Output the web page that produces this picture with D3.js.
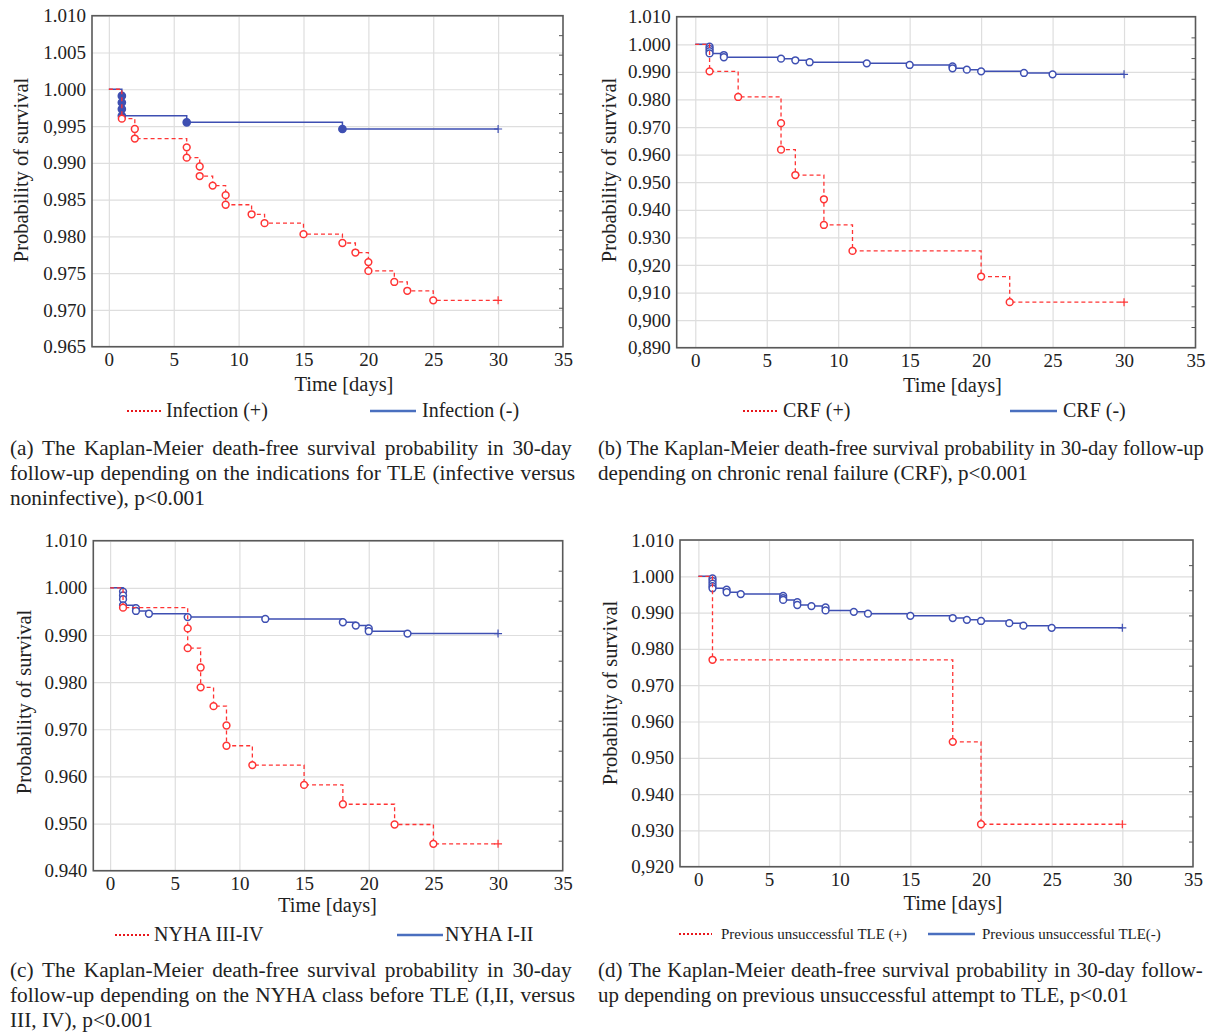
<!DOCTYPE html>
<html><head><meta charset="utf-8">
<script src="https://cdn.jsdelivr.net/npm/d3@7"></script>
<style>body{margin:0;background:#fff}svg{display:block}</style>
</head><body><svg id="chart" width="1215" height="1032"></svg>
<script>
// ---------- shared axis data ----------
const followUpEnd = 30;
const xDomain = [-1.3, 35];
const xTicks = [0, 5, 10, 15, 20, 25, 30, 35];
const xGridTicks = [0, 5, 10, 15, 20, 25, 30];

// ---------- panel (a) Infection ----------
const aYTicks = [1.010, 1.005, 1.000, 0.995, 0.990, 0.985, 0.980, 0.975, 0.970, 0.965];
const aYLabels = ["1.010", "1.005", "1.000", "0,995", "0.990", "0.985", "0.980", "0.975", "0.970", "0.965"];
const aPosTimes = [1, 2, 2, 6, 6, 7, 7, 8, 9, 9, 11, 12, 15, 18, 19, 20, 20, 22, 23, 25];
const aPosSurv = [0.9960, 0.9946, 0.9933, 0.9921, 0.9907, 0.9895, 0.9882, 0.9869, 0.9856, 0.9843, 0.9830, 0.9818, 0.9803, 0.9791, 0.9778, 0.9765, 0.9753, 0.9738, 0.9726, 0.9713];
const aNegTimes = [1, 1, 1, 1, 6, 18];
const aNegSurv = [0.9991, 0.9982, 0.9973, 0.9964, 0.9955, 0.9946];
const aLegend = ["Infection (+)", "Infection (-)"];
const aCaption = ["(a)  The Kaplan-Meier death-free survival probability in 30-day",
                  "follow-up depending on the indications for TLE (infective versus",
                  "noninfective), p<0.001"];

// ---------- panel (b) CRF ----------
const bYTicks = [1.010, 1.000, 0.990, 0.980, 0.970, 0.960, 0.950, 0.940, 0.930, 0.920, 0.910, 0.900, 0.890];
const bYLabels = ["1.010", "1.000", "0.990", "0.980", "0.970", "0.960", "0.950", "0.940", "0.930", "0,920", "0,910", "0,900", "0,890"];
const bPosTimes = [1, 3, 6, 6, 7, 9, 9, 11, 20, 22];
const bPosSurv = [0.9902, 0.9809, 0.9714, 0.9618, 0.9526, 0.9438, 0.9345, 0.9251, 0.9158, 0.9065];
const bNegTimes = [1, 1, 1, 1, 2, 2, 6, 7, 8, 12, 15, 18, 18, 19, 20, 23, 25];
const bNegSurv = [0.9991, 0.9983, 0.9975, 0.9967, 0.9961, 0.9953, 0.9948, 0.9942, 0.9935, 0.9931, 0.9925, 0.9920, 0.9913, 0.9908, 0.9902, 0.9896, 0.9891];
const bLegend = ["CRF (+)", "CRF (-)"];
const bCaption = ["(b)  The Kaplan-Meier death-free survival probability in 30-day follow-up",
                  "depending on chronic renal failure (CRF), p<0.001"];

// ---------- panel (c) NYHA ----------
const cYTicks = [1.010, 1.000, 0.990, 0.980, 0.970, 0.960, 0.950, 0.940];
const cYLabels = ["1.010", "1.000", "0.990", "0.980", "0.970", "0.960", "0.950", "0.940"];
const cPosTimes = [1, 6, 6, 7, 7, 8, 9, 9, 11, 15, 18, 22, 25];
const cPosSurv = [0.9958, 0.9914, 0.9872, 0.9831, 0.9789, 0.9749, 0.9708, 0.9665, 0.9624, 0.9582, 0.9541, 0.9498, 0.9457];
const cNegTimes = [1, 1, 1, 1, 2, 2, 3, 6, 12, 18, 19, 20, 20, 23];
const cNegSurv = [0.9992, 0.9984, 0.9976, 0.9963, 0.9957, 0.9951, 0.9945, 0.9938, 0.9934, 0.9927, 0.9920, 0.9914, 0.9908, 0.9903];
const cLegend = ["NYHA III-IV", "NYHA I-II"];
const cCaption = ["(c)  The Kaplan-Meier death-free survival probability in 30-day",
                  "follow-up depending on the NYHA class before TLE (I,II, versus",
                  "III, IV), p<0.001"];

// ---------- panel (d) previous unsuccessful TLE ----------
const dYTicks = [1.010, 1.000, 0.990, 0.980, 0.970, 0.960, 0.950, 0.940, 0.930, 0.920];
const dYLabels = ["1.010", "1.000", "0.990", "0.980", "0.970", "0.960", "0.950", "0.940", "0.930", "0,920"];
const dPosTimes = [1, 18, 20];
const dPosSurv = [0.9770, 0.9544, 0.9317];
const dNegTimes = [1, 1, 1, 1, 1, 2, 2, 3, 6, 6, 6, 7, 7, 8, 9, 9, 11, 12, 15, 18, 19, 20, 22, 23, 25];
const dNegSurv = [0.9994, 0.9987, 0.9980, 0.9973, 0.9967, 0.9963, 0.9956, 0.9951, 0.9946, 0.9940, 0.9935, 0.9929, 0.9921, 0.9918, 0.9914, 0.9906, 0.9902, 0.9897, 0.9891, 0.9885, 0.9880, 0.9877, 0.9871, 0.9864, 0.9858];
const dLegend = ["Previous unsuccessful TLE (+)", "Previous unsuccessful TLE(-)"];
const dCaption = ["(d)  The Kaplan-Meier death-free survival probability in 30-day follow-",
                  "up depending on previous unsuccessful attempt to TLE, p<0.01"];

// ---------- layout ----------
const FONT = "'Liberation Serif','Times New Roman',serif";
const RED = "#ff3434", BLUE = "#3e4fb2";
const LEG_RED = "#e8161b", LEG_BLUE = "#4a6fbf";

const panels = [
  {ticks: aYTicks, labels: aYLabels, pos: [aPosTimes, aPosSurv], neg: [aNegTimes, aNegSurv], legend: aLegend, caption: aCaption,
   box: {l: 92, t: 15.7, r: 563, b: 346.7}, rightTicks: 16, filledNeg: true,
   yTitle: [21, 170], xTitle: [344, 391],
   leg: {y: 411, fs: 20, r1: 127, r2: 161, t1: 166, b1: 370, b2: 416, t2: 422},
   cap: {x: 10, y0: 455, w: [565, 565, 195], justify: [true, true, false]}},
  {ticks: bYTicks, labels: bYLabels, pos: [bPosTimes, bPosSurv], neg: [bNegTimes, bNegSurv], legend: bLegend, caption: bCaption,
   box: {l: 676.7, t: 16.7, r: 1195.5, b: 347.7}, rightTicks: 15, filledNeg: false,
   yTitle: [609, 170], xTitle: [952.5, 392],
   leg: {y: 411, fs: 20, r1: 743, r2: 777, t1: 783, b1: 1010, b2: 1057, t2: 1063},
   cap: {x: 598, y0: 455, w: [606, 430], justify: [true, false]}},
  {ticks: cYTicks, labels: cYLabels, pos: [cPosTimes, cPosSurv], neg: [cNegTimes, cNegSurv], legend: cLegend, caption: cCaption,
   box: {l: 93.3, t: 540.7, r: 562.7, b: 870.7}, rightTicks: 10, filledNeg: false,
   yTitle: [24, 702], xTitle: [327.5, 912],
   leg: {y: 935, fs: 20, r1: 115, r2: 150, t1: 154, b1: 397, b2: 443, t2: 445},
   cap: {x: 10, y0: 977, w: [565, 565, 143], justify: [true, true, false]}},
  {ticks: dYTicks, labels: dYLabels, pos: [dPosTimes, dPosSurv], neg: [dNegTimes, dNegSurv], legend: dLegend, caption: dCaption,
   box: {l: 680, t: 540, r: 1193, b: 866.7}, rightTicks: 12, filledNeg: false,
   yTitle: [609.5, 693], xTitle: [953, 910],
   leg: {y: 934, fs: 15, r1: 679, r2: 712, t1: 721, b1: 928, b2: 975, t2: 982},
   cap: {x: 598, y0: 977, w: [606, 531], justify: [true, false]}}
];

const svg = d3.select("#chart");

function drawPanel(p) {
  const B = p.box;
  const x = d3.scaleLinear().domain(xDomain).range([B.l, B.r]);
  const y = d3.scaleLinear().domain([d3.min(p.ticks), d3.max(p.ticks)]).range([B.b, B.t]);
  const g = svg.append("g");

  // grid
  g.append("g").attr("transform", `translate(0,${B.t})`)
    .call(d3.axisBottom(x).tickValues(xGridTicks).tickSize(B.b - B.t).tickFormat(""))
    .call(s => s.select(".domain").remove())
    .call(s => s.selectAll("line").attr("stroke", "#dedede").attr("stroke-width", 1.2));
  g.append("g").attr("transform", `translate(${B.l},0)`)
    .call(d3.axisRight(y).tickValues(p.ticks).tickSize(B.r - B.l).tickFormat(""))
    .call(s => s.select(".domain").remove())
    .call(s => s.selectAll("line").attr("stroke", "#dedede").attr("stroke-width", 1.2));

  // right-side inward ticks
  const yr = d3.scalePoint().domain(d3.range(p.rightTicks)).range([B.t, B.b]).padding(1);
  g.append("g").attr("transform", `translate(${B.r},0)`)
    .call(d3.axisLeft(yr).tickSize(4).tickFormat(""))
    .call(s => s.select(".domain").remove())
    .call(s => s.selectAll("line").attr("stroke", "#555").attr("stroke-width", 1));

  // axes labels
  g.append("g").attr("transform", `translate(${B.l},0)`)
    .call(d3.axisLeft(y).tickValues(p.ticks).tickSize(0).tickPadding(6).tickFormat((d, i) => p.labels[i]))
    .call(s => s.select(".domain").remove())
    .call(s => s.selectAll("text").attr("font-family", FONT).attr("font-size", 19).attr("fill", "#222"));
  g.append("g").attr("transform", `translate(0,${B.b})`)
    .call(d3.axisBottom(x).tickValues(xTicks).tickSize(0).tickPadding(6).tickFormat(d3.format("d")))
    .call(s => s.select(".domain").remove())
    .call(s => s.selectAll("text").attr("font-family", FONT).attr("font-size", 19).attr("fill", "#222"));

  // frame
  g.append("rect").attr("x", B.l).attr("y", B.t).attr("width", B.r - B.l).attr("height", B.b - B.t)
    .attr("fill", "none").attr("stroke", "#595959").attr("stroke-width", 1.6);

  // KM curves
  const line = d3.line().x(d => x(d[0])).y(d => y(d[1])).curve(d3.curveStepAfter);
  function series(data, color, dash, filled) {
    const [times, surv] = data;
    const pts = [[0, 1]].concat(times.map((t, i) => [t, surv[i]]));
    pts.push([followUpEnd, surv[surv.length - 1]]);
    g.append("path").attr("d", line(pts)).attr("fill", "none").attr("stroke", color)
      .attr("stroke-width", dash ? 1.3 : 1.5).attr("stroke-dasharray", dash ? "4,3" : null);
    g.append("g").selectAll("circle").data(times.map((t, i) => [t, surv[i]])).join("circle")
      .attr("cx", d => x(d[0])).attr("cy", d => y(d[1])).attr("r", filled ? 3.6 : 3.4)
      .attr("fill", filled ? color : "#fff").attr("stroke", color).attr("stroke-width", 1.5);
    const end = pts[pts.length - 1];
    const cx = x(end[0]), cy = y(end[1]);
    g.append("path").attr("d", `M${cx - 4},${cy}H${cx + 4}M${cx},${cy - 4}V${cy + 4}`)
      .attr("stroke", color).attr("stroke-width", 1.2);
  }
  series(p.neg, BLUE, false, p.filledNeg);
  series(p.pos, RED, true, false);

  // titles
  g.append("text").attr("transform", `translate(${p.yTitle[0]},${p.yTitle[1]}) rotate(-90)`)
    .attr("text-anchor", "middle").attr("dy", "0.35em").attr("font-family", FONT).attr("font-size", 20.5)
    .attr("fill", "#222").text("Probability of survival");
  g.append("text").attr("x", p.xTitle[0]).attr("y", p.xTitle[1]).attr("text-anchor", "middle")
    .attr("font-family", FONT).attr("font-size", 20.5).attr("fill", "#222").text("Time [days]");

  // legend
  const L = p.leg;
  g.append("line").attr("x1", L.r1).attr("x2", L.r2).attr("y1", L.y).attr("y2", L.y)
    .attr("stroke", LEG_RED).attr("stroke-width", 2).attr("stroke-dasharray", "2,2");
  g.append("line").attr("x1", L.b1).attr("x2", L.b2).attr("y1", L.y).attr("y2", L.y)
    .attr("stroke", LEG_BLUE).attr("stroke-width", 2.5);
  [[L.t1, p.legend[0]], [L.t2, p.legend[1]]].forEach(([tx, label]) => {
    g.append("text").attr("x", tx).attr("y", L.y).attr("dy", "0.32em").attr("font-family", FONT)
      .attr("font-size", L.fs).attr("fill", "#222").text(label);
  });

  // caption: size from the unjustified last line, then justify others via word-spacing
  const last = p.caption.length - 1;
  const probe = g.append("text").attr("font-family", FONT).attr("font-size", 20).text(p.caption[last]);
  const natural = probe.node().getComputedTextLength();
  probe.remove();
  const fs = Math.min(21.5, 20 * p.cap.w[last] / natural);
  p.caption.forEach((line, i) => {
    const t = g.append("text").attr("x", p.cap.x).attr("y", p.cap.y0 + i * 25).attr("font-family", FONT)
      .attr("font-size", fs).attr("fill", "#222").text(line);
    if (p.cap.justify[i]) {
      let nat = t.node().getComputedTextLength();
      if (nat > p.cap.w[i]) {
        t.attr("font-size", fs * (p.cap.w[i] - 1) / nat);
        nat = t.node().getComputedTextLength();
      }
      const spaces = (line.match(/ /g) || []).length;
      if (spaces && nat < p.cap.w[i]) t.attr("word-spacing", (p.cap.w[i] - nat) / spaces);
    }
  });
}

panels.forEach(drawPanel);
</script>
</body></html>
